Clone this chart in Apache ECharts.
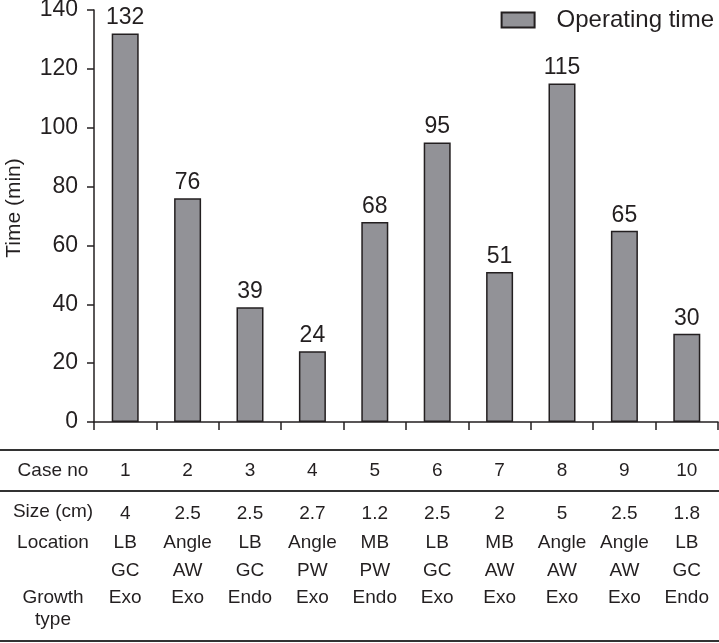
<!DOCTYPE html>
<html>
<head>
<meta charset="utf-8">
<script src="https://cdn.jsdelivr.net/npm/echarts@6/dist/echarts.min.js"></script>
<style>
html,body{margin:0;padding:0;background:#fff;}
#chart{width:719px;height:643px;}
</style>
</head>
<body>
<div id="chart"></div>
<script>
// ---- data ----
const caseNo = ['1','2','3','4','5','6','7','8','9','10'];
const operatingTime = [132, 76, 39, 24, 68, 95, 51, 115, 65, 30];
const sizeCm = ['4','2.5','2.5','2.7','1.2','2.5','2','5','2.5','1.8'];
const location1 = ['LB','Angle','LB','Angle','MB','LB','MB','Angle','Angle','LB'];
const location2 = ['GC','AW','GC','PW','PW','GC','AW','AW','AW','GC'];
const growthType = ['Exo','Exo','Endo','Exo','Endo','Exo','Exo','Exo','Exo','Endo'];
const rowHeaders = ['Case no','Size (cm)','Location','Growth\ntype'];
const seriesName = 'Operating time';
const yAxisName = 'Time (min)';

// ---- chart ----
const FONT = "'Liberation Sans', Arial, Helvetica, sans-serif";
const INK = '#231f20';
const chart = echarts.init(document.getElementById('chart'), null, {renderer:'canvas'});

function tableAxis(data, offset){
  return {
    type:'category', gridIndex:0, position:'bottom', offset:offset, data:data,
    axisLine:{show:false}, axisTick:{show:false}, splitLine:{show:false},
    axisLabel:{show:true, interval:0, margin:0, verticalAlign:'middle',
      fontFamily:FONT, fontSize:19, color:INK}
  };
}

const option = {
  animation:false,
  backgroundColor:'#ffffff',
  textStyle:{fontFamily:FONT},
  grid:{left:94, right:1, top:10, bottom:221, containLabel:false, outerBoundsMode:'none'},
  legend:{
    data:[seriesName], right:0, top:3, itemWidth:33, itemHeight:15, icon:'rect',
    textStyle:{fontFamily:FONT, fontSize:24, color:INK, padding:[0,0,0,17]}
  },
  xAxis:[
    {
      type:'category', gridIndex:0, data:caseNo, boundaryGap:true,
      axisLine:{show:true, lineStyle:{color:INK, width:1.5}},
      axisTick:{show:true, length:8, interval:0, lineStyle:{color:INK, width:1.5}},
      axisLabel:{show:false}, splitLine:{show:false}
    },
    tableAxis(caseNo, 49),
    tableAxis(sizeCm, 92),
    tableAxis(location1, 121),
    tableAxis(location2, 149),
    tableAxis(growthType, 176)
  ],
  yAxis:{
    type:'value', min:0, max:140, interval:20,
    name:yAxisName, nameLocation:'middle', nameGap:69, nameRotate:90,
    nameTextStyle:{fontFamily:FONT, fontSize:21, color:INK, padding:[0,0,0,16]},
    axisLine:{show:true, lineStyle:{color:INK, width:1.5}},
    axisTick:{show:true, length:7, lineStyle:{color:INK, width:1.5}},
    axisLabel:{margin:16, fontFamily:FONT, fontSize:23, color:INK},
    splitLine:{show:false}
  },
  series:[{
    name:seriesName, type:'bar', xAxisIndex:0, yAxisIndex:0,
    data:operatingTime, barWidth:27,
    itemStyle:{color:'#929297', borderColor:INK, borderWidth:1.5},
    label:{show:true, position:'top', distance:4, fontFamily:FONT, fontSize:23, color:INK}
  }],
  graphic:[
    {type:'line', shape:{x1:0,y1:450,x2:719,y2:450}, style:{stroke:'#333', lineWidth:2}},
    {type:'line', shape:{x1:0,y1:491,x2:719,y2:491}, style:{stroke:'#333', lineWidth:2}},
    {type:'line', shape:{x1:0,y1:641,x2:719,y2:641}, style:{stroke:'#333', lineWidth:2}},
    {type:'text', x:53, y:471, style:{text:rowHeaders[0], font:"19px "+FONT, fill:INK, align:'center', verticalAlign:'middle'}},
    {type:'text', x:53, y:512, style:{text:rowHeaders[1], font:"19px "+FONT, fill:INK, align:'center', verticalAlign:'middle'}},
    {type:'text', x:53, y:543, style:{text:rowHeaders[2], font:"19px "+FONT, fill:INK, align:'center', verticalAlign:'middle'}},
    {type:'text', x:53, y:587, style:{text:rowHeaders[3], font:"19px "+FONT, fill:INK, align:'center', verticalAlign:'top', lineHeight:22}}
  ]
};
chart.setOption(option);
</script>
</body>
</html>
